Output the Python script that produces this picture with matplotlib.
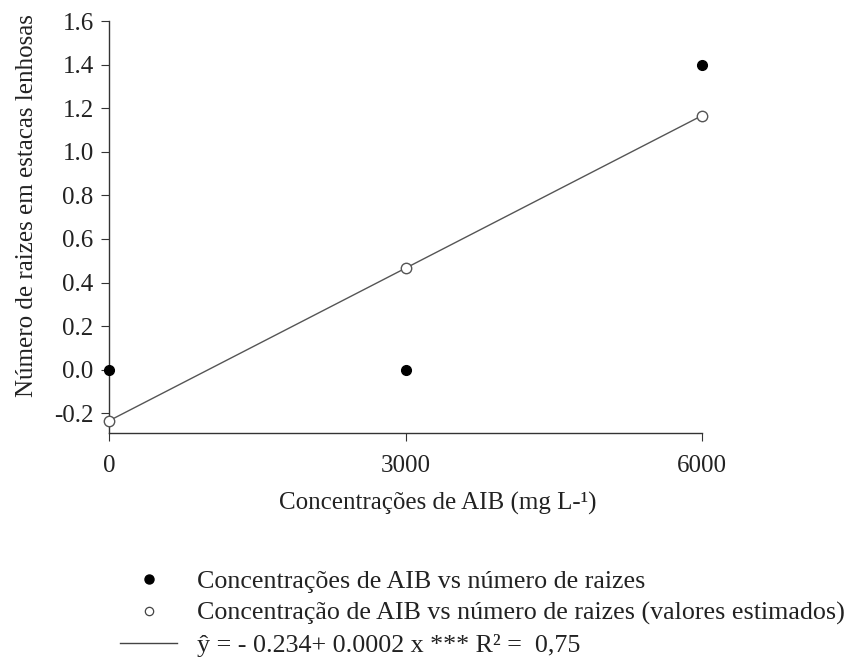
import matplotlib.pyplot as plt
from matplotlib.lines import Line2D

# --- dados ---
concentracoes = [0, 3000, 6000]
raizes_obs = [0.0, 0.0, 1.4]
raizes_est = [-0.234, 0.466, 1.166]
yticks = [-0.2, 0.0, 0.2, 0.4, 0.6, 0.8, 1.0, 1.2, 1.4, 1.6]

plt.rcParams['font.family'] = ['Liberation Serif', 'DejaVu Serif']

fig = plt.figure(figsize=(8.46, 6.57), dpi=100)
# eixos posicionados em pixels (esq=109, dir=702, topo=21, base=433)
ax = fig.add_axes([109 / 846, 1 - 433 / 657, (702 - 109) / 846, (433 - 21) / 657])

# reta de regressão + pontos estimados
ax.plot(concentracoes, raizes_est, color='#555555', lw=1.0, zorder=2, clip_on=False)
ax.plot(concentracoes, raizes_est, 'o', mfc='white', mec='#555555', ms=7.5, mew=1.0,
        linestyle='none', zorder=3, clip_on=False)
ax.plot(concentracoes, raizes_obs, 'o', color='black', ms=7, linestyle='none',
        zorder=4, clip_on=False)

ax.set_xlim(0, 6000)
ax.set_ylim(-0.29, 1.6)
ax.set_xticks(concentracoes)
ax.set_yticks(yticks)
ax.set_yticklabels([f"{v:.1f}" for v in yticks])

for s in ['top', 'right']:
    ax.spines[s].set_visible(False)
for s in ['left', 'bottom']:
    ax.spines[s].set_color('#333333')
    ax.spines[s].set_linewidth(1.0)

ax.tick_params(direction='out', length=6, width=0.8, colors='#333333',
               labelsize=18, labelcolor='#222222', pad=5)
ax.tick_params(axis='x', pad=10)

ax.set_xlabel('Concentrações de AIB (mg L-¹)', fontsize=18, color='#222222')
ax.set_ylabel('Número de raizes em estacas lenhosas', fontsize=18, color='#222222')
ax.xaxis.set_label_coords(0.555, -0.143)
ax.yaxis.set_label_coords(-0.12, 0.553)

# --- legenda abaixo do gráfico ---
handles = [
    Line2D([], [], marker='o', color='black', ms=6.5, linestyle='none'),
    Line2D([], [], marker='o', mfc='white', mec='#444444', ms=6, mew=0.9, linestyle='none'),
    Line2D([], [], color='#444444', lw=1.0),
]
labels = [
    'Concentrações de AIB vs número de raizes',
    'Concentração de AIB vs número de raizes (valores estimados)',
    'ŷ = - 0.234+ 0.0002 x *** R² =  0,75',
]
fig.legend(handles, labels, loc='upper left', bbox_to_anchor=(120 / 846, 1 - 570 / 657),
           frameon=False, fontsize=18.7, handlelength=2.2, handletextpad=0.75,
           labelspacing=0.33, borderpad=0, borderaxespad=0, labelcolor='#222222')

fig.savefig('out.png', dpi=100)
